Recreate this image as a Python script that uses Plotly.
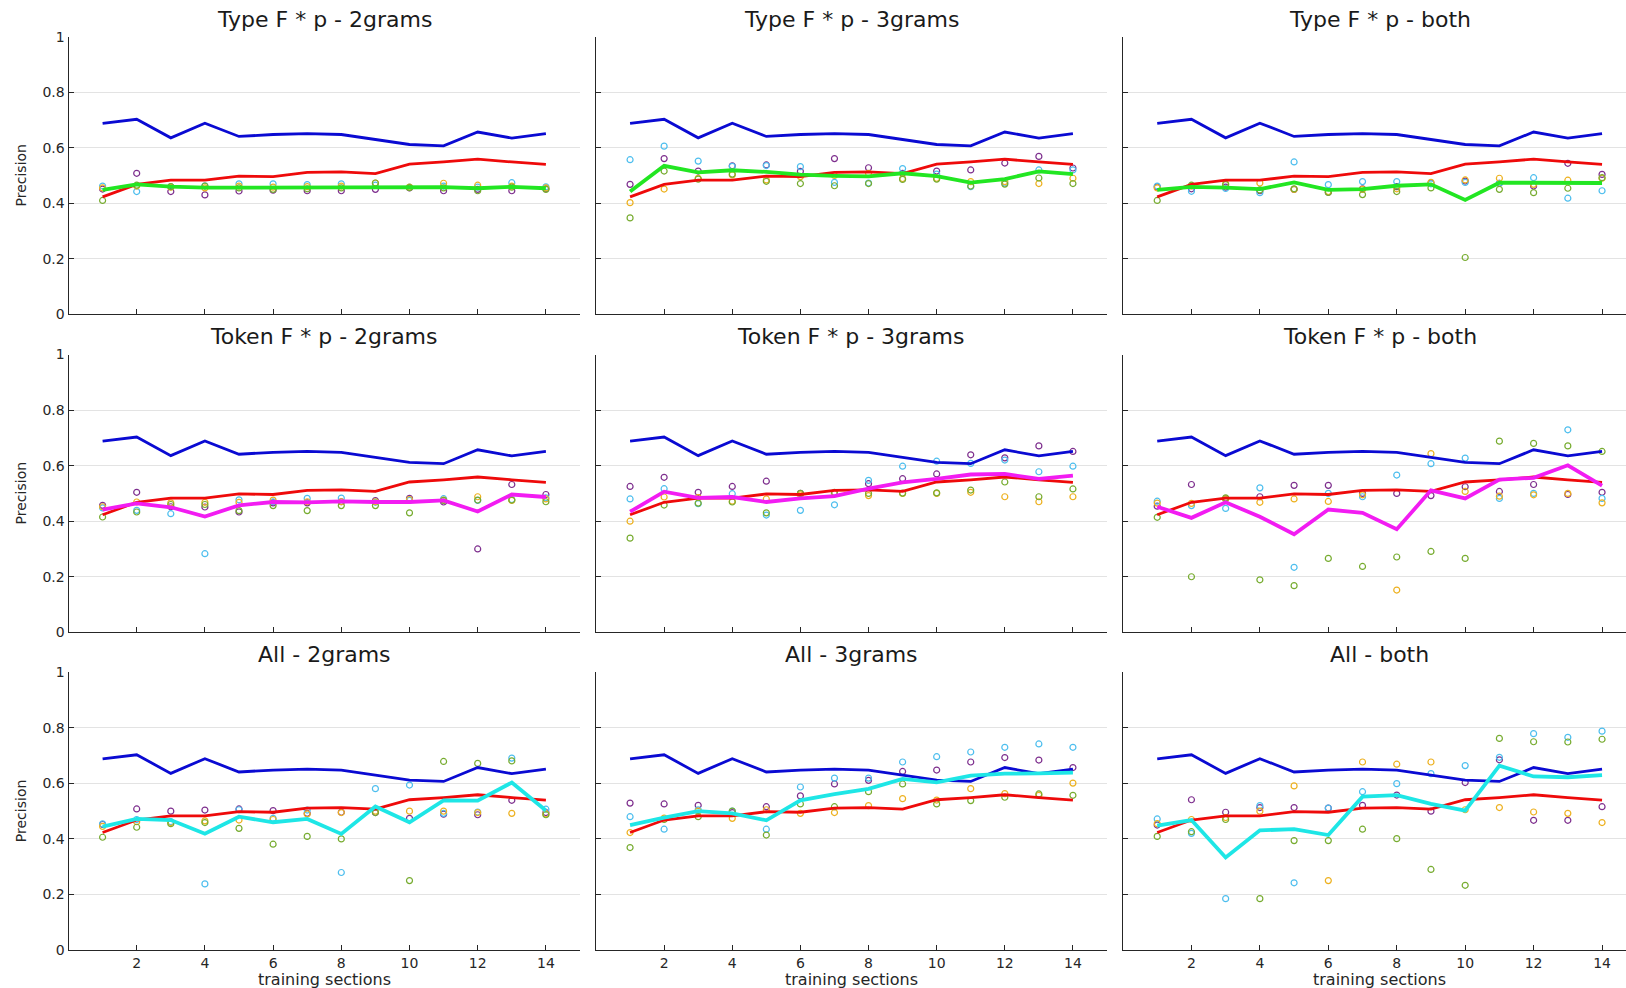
import plotly.graph_objects as go

sections = list(range(1, 15))
x_ticks = [2, 4, 6, 8, 10, 12, 14]
y_ticks = [0, 0.2, 0.4, 0.6, 0.8, 1]
y_tick_labels = ["0", "0.2", "0.4", "0.6", "0.8", "1"]

titles = ["Type F * p - 2grams", "Type F * p - 3grams", "Type F * p - both",
          "Token F * p - 2grams", "Token F * p - 3grams", "Token F * p - both",
          "All - 2grams", "All - 3grams", "All - both"]
x_label = "training sections"
y_label = "Precision"

# shared reference lines (same in every panel)
blue_line = [0.688, 0.703, 0.636, 0.689, 0.641, 0.648, 0.651, 0.648, 0.630, 0.612, 0.607, 0.657, 0.635, 0.651]
red_line = [0.423, 0.468, 0.483, 0.483, 0.498, 0.496, 0.511, 0.513, 0.507, 0.541, 0.549, 0.559, 0.549, 0.540]

# Panel 1: Type 2grams
type2_line = [0.448, 0.468, 0.460, 0.456, 0.456, 0.456, 0.456, 0.459, 0.459, 0.459, 0.458, 0.454, 0.459, 0.454]
type2_purple = [0.451, 0.508, 0.442, 0.430, 0.444, 0.447, 0.445, 0.445, 0.450, 0.455, 0.445, 0.450, 0.445, 0.452]
type2_cyan = [0.462, 0.442, 0.460, 0.463, 0.470, 0.470, 0.467, 0.470, 0.465, 0.458, 0.462, 0.458, 0.474, 0.459]
type2_orange = [0.455, 0.462, 0.458, 0.455, 0.462, 0.458, 0.460, 0.462, 0.473, 0.458, 0.472, 0.465, 0.462, 0.455]
type2_green = [0.410, 0.465, 0.460, 0.462, 0.455, 0.450, 0.452, 0.455, 0.473, 0.456, 0.455, 0.445, 0.458, 0.450]

# Panel 2: Type 3grams
type3_line = [0.442, 0.535, 0.511, 0.519, 0.513, 0.503, 0.499, 0.497, 0.508, 0.498, 0.474, 0.487, 0.515, 0.505]
type3_purple = [0.468, 0.561, 0.516, 0.535, 0.538, 0.515, 0.561, 0.528, 0.508, 0.516, 0.520, 0.545, 0.569, 0.527]
type3_cyan = [0.557, 0.606, 0.552, 0.533, 0.536, 0.532, 0.475, 0.473, 0.525, 0.505, 0.460, 0.473, 0.520, 0.520]
type3_orange = [0.402, 0.451, 0.490, 0.502, 0.484, 0.496, 0.500, 0.508, 0.489, 0.490, 0.478, 0.478, 0.471, 0.490]
type3_green = [0.347, 0.516, 0.487, 0.505, 0.479, 0.471, 0.463, 0.471, 0.486, 0.487, 0.462, 0.469, 0.491, 0.471]

# Panel 3: Type both
typeb_line = [0.448, 0.459, 0.456, 0.451, 0.475, 0.448, 0.451, 0.463, 0.468, 0.412, 0.474, 0.474, 0.475, 0.473]
typeb_purple = [0.459, 0.452, 0.458, 0.445, 0.450, 0.440, 0.452, 0.460, 0.473, 0.480, 0.472, 0.462, 0.544, 0.504]
typeb_cyan = [0.462, 0.443, 0.453, 0.438, 0.549, 0.467, 0.478, 0.478, 0.470, 0.475, 0.472, 0.492, 0.418, 0.445]
typeb_orange = [0.455, 0.462, 0.470, 0.473, 0.450, 0.442, 0.450, 0.452, 0.475, 0.484, 0.490, 0.468, 0.483, 0.490]
typeb_green = [0.410, 0.465, 0.467, 0.448, 0.452, 0.439, 0.431, 0.442, 0.455, 0.204, 0.450, 0.438, 0.454, 0.492]

# Panel 4: Token 2grams
tok2_line = [0.442, 0.464, 0.450, 0.417, 0.457, 0.469, 0.468, 0.471, 0.469, 0.469, 0.475, 0.435, 0.496, 0.487]
tok2_purple = [0.457, 0.504, 0.452, 0.451, 0.433, 0.466, 0.466, 0.470, 0.474, 0.482, 0.469, 0.300, 0.532, 0.496]
tok2_cyan = [0.448, 0.439, 0.427, 0.283, 0.477, 0.470, 0.482, 0.483, 0.468, 0.475, 0.481, 0.475, 0.478, 0.484]
tok2_orange = [0.452, 0.469, 0.466, 0.468, 0.468, 0.476, 0.470, 0.470, 0.470, 0.478, 0.476, 0.488, 0.475, 0.480]
tok2_green = [0.415, 0.433, 0.460, 0.460, 0.438, 0.456, 0.438, 0.456, 0.456, 0.430, 0.475, 0.476, 0.476, 0.470]

# Panel 5: Token 3grams
tok3_line = [0.434, 0.506, 0.484, 0.487, 0.469, 0.482, 0.490, 0.517, 0.540, 0.552, 0.568, 0.570, 0.552, 0.564]
tok3_purple = [0.525, 0.558, 0.504, 0.525, 0.544, 0.500, 0.500, 0.535, 0.553, 0.570, 0.639, 0.628, 0.671, 0.651]
tok3_cyan = [0.480, 0.517, 0.463, 0.499, 0.422, 0.439, 0.459, 0.547, 0.598, 0.616, 0.608, 0.620, 0.578, 0.598]
tok3_orange = [0.400, 0.487, 0.485, 0.472, 0.480, 0.495, 0.500, 0.492, 0.500, 0.500, 0.504, 0.488, 0.470, 0.488]
tok3_green = [0.339, 0.458, 0.465, 0.469, 0.430, 0.500, 0.504, 0.500, 0.501, 0.502, 0.512, 0.541, 0.488, 0.516]

# Panel 6: Token both
tokb_line = [0.452, 0.412, 0.468, 0.416, 0.353, 0.442, 0.430, 0.371, 0.511, 0.482, 0.550, 0.556, 0.601, 0.528]
tokb_purple = [0.454, 0.532, 0.480, 0.488, 0.529, 0.529, 0.500, 0.500, 0.492, 0.524, 0.507, 0.532, 0.496, 0.504]
tokb_cyan = [0.472, 0.456, 0.446, 0.520, 0.234, 0.500, 0.488, 0.566, 0.607, 0.627, 0.482, 0.500, 0.729, 0.482]
tokb_orange = [0.465, 0.464, 0.480, 0.468, 0.480, 0.471, 0.495, 0.152, 0.643, 0.507, 0.490, 0.495, 0.500, 0.466]
tokb_green = [0.414, 0.200, 0.484, 0.189, 0.168, 0.266, 0.237, 0.271, 0.291, 0.266, 0.688, 0.680, 0.671, 0.651]

# Panel 7: All 2grams
all2_line = [0.444, 0.472, 0.468, 0.419, 0.480, 0.460, 0.472, 0.418, 0.517, 0.460, 0.539, 0.538, 0.603, 0.502]
all2_purple = [0.452, 0.508, 0.500, 0.504, 0.508, 0.502, 0.492, 0.496, 0.495, 0.474, 0.489, 0.487, 0.539, 0.495]
all2_cyan = [0.454, 0.470, 0.462, 0.238, 0.505, 0.474, 0.504, 0.279, 0.581, 0.594, 0.492, 0.497, 0.691, 0.507]
all2_orange = [0.445, 0.462, 0.459, 0.465, 0.468, 0.470, 0.490, 0.495, 0.500, 0.500, 0.500, 0.495, 0.492, 0.490]
all2_green = [0.406, 0.442, 0.455, 0.459, 0.438, 0.381, 0.409, 0.400, 0.495, 0.250, 0.679, 0.672, 0.681, 0.487]

# Panel 8: All 3grams
all3_line = [0.450, 0.477, 0.500, 0.492, 0.467, 0.539, 0.561, 0.580, 0.616, 0.604, 0.628, 0.635, 0.636, 0.639]
all3_purple = [0.529, 0.526, 0.521, 0.495, 0.516, 0.555, 0.598, 0.611, 0.643, 0.648, 0.677, 0.693, 0.684, 0.657]
all3_cyan = [0.480, 0.435, 0.505, 0.500, 0.435, 0.587, 0.619, 0.619, 0.677, 0.696, 0.713, 0.730, 0.742, 0.730]
all3_orange = [0.423, 0.475, 0.500, 0.474, 0.505, 0.492, 0.495, 0.520, 0.545, 0.540, 0.581, 0.563, 0.557, 0.601]
all3_green = [0.369, 0.470, 0.480, 0.500, 0.414, 0.526, 0.516, 0.570, 0.598, 0.526, 0.538, 0.550, 0.562, 0.557]

# Panel 9: All both
allb_line = [0.448, 0.468, 0.333, 0.431, 0.435, 0.414, 0.552, 0.558, 0.526, 0.502, 0.664, 0.625, 0.622, 0.630]
allb_purple = [0.450, 0.541, 0.496, 0.513, 0.513, 0.511, 0.521, 0.558, 0.500, 0.603, 0.685, 0.467, 0.467, 0.516]
allb_cyan = [0.472, 0.420, 0.185, 0.520, 0.242, 0.511, 0.570, 0.599, 0.635, 0.664, 0.694, 0.779, 0.766, 0.788]
allb_orange = [0.455, 0.470, 0.477, 0.500, 0.591, 0.250, 0.677, 0.669, 0.677, 0.505, 0.513, 0.497, 0.492, 0.459]
allb_green = [0.409, 0.426, 0.470, 0.185, 0.394, 0.394, 0.435, 0.401, 0.290, 0.233, 0.762, 0.750, 0.749, 0.759]

panels = [
    (type2_line, type2_purple, type2_cyan, type2_orange, type2_green, "#22E622"),
    (type3_line, type3_purple, type3_cyan, type3_orange, type3_green, "#22E622"),
    (typeb_line, typeb_purple, typeb_cyan, typeb_orange, typeb_green, "#22E622"),
    (tok2_line, tok2_purple, tok2_cyan, tok2_orange, tok2_green, "#F21CF2"),
    (tok3_line, tok3_purple, tok3_cyan, tok3_orange, tok3_green, "#F21CF2"),
    (tokb_line, tokb_purple, tokb_cyan, tokb_orange, tokb_green, "#F21CF2"),
    (all2_line, all2_purple, all2_cyan, all2_orange, all2_green, "#1EE6E6"),
    (all3_line, all3_purple, all3_cyan, all3_orange, all3_green, "#1EE6E6"),
    (allb_line, allb_purple, allb_cyan, allb_orange, allb_green, "#1EE6E6"),
]

W, H = 1626, 988
FONT = "DejaVu Sans, Liberation Sans, Arial, sans-serif"
col_px = [(68.5, 580, 15.0), (596, 1107, 15.0), (1123, 1626, 14.7)]
row_px = [(37, 314), (354.5, 632.3), (672.3, 950)]

dot_colors = ["#7E2F8E", "#4DBEEE", "#EDB120", "#77AC30"]
TXT = "#262626"

fig = go.Figure()
layout = dict(width=W, height=H, paper_bgcolor="white", plot_bgcolor="white",
              margin=dict(l=0, r=0, t=0, b=0, pad=0), showlegend=False,
              font=dict(family=FONT, color=TXT))
annotations = []

for i, (line, p, c, o, g, lc) in enumerate(panels):
    r, ci = divmod(i, 3)
    k = i + 1
    xa = "x" if k == 1 else f"x{k}"
    ya = "y" if k == 1 else f"y{k}"
    for vals, col in zip([p, c, o, g], dot_colors):
        fig.add_trace(go.Scatter(x=sections, y=vals, mode="markers", xaxis=xa, yaxis=ya,
                                 marker=dict(symbol="circle-open", size=6, color=col,
                                             line=dict(width=1.2, color=col))))
    fig.add_trace(go.Scatter(x=sections, y=blue_line, mode="lines", xaxis=xa, yaxis=ya,
                             line=dict(color="#0A0AD2", width=2.8)))
    fig.add_trace(go.Scatter(x=sections, y=red_line, mode="lines", xaxis=xa, yaxis=ya,
                             line=dict(color="#EE0A0A", width=2.8)))
    fig.add_trace(go.Scatter(x=sections, y=line, mode="lines", xaxis=xa, yaxis=ya,
                             line=dict(color=lc, width=3.8)))

    x0, x1, xmax = col_px[ci]
    y0, y1 = row_px[r]
    xkey = "xaxis" if k == 1 else f"xaxis{k}"
    ykey = "yaxis" if k == 1 else f"yaxis{k}"
    layout[xkey] = dict(domain=[x0 / W, x1 / W], range=[0, xmax], anchor=ya,
                        automargin=False,
                        tickvals=x_ticks, ticktext=[str(t) for t in x_ticks],
                        showticklabels=(r == 2), ticks="inside", ticklen=5,
                        tickcolor=TXT, showline=True, linecolor=TXT,
                        linewidth=1, showgrid=False, zeroline=False,
                        tickfont=dict(size=14, family=FONT, color=TXT))
    layout[ykey] = dict(domain=[1 - y1 / H, 1 - y0 / H], range=[0, 1], anchor=xa,
                        automargin=False,
                        tickvals=y_ticks, ticktext=y_tick_labels,
                        showticklabels=(ci == 0), ticks="inside", ticklen=5,
                        tickcolor=TXT, showline=True, linecolor=TXT,
                        linewidth=1, showgrid=True, gridcolor="#E3E3E3", gridwidth=1,
                        zeroline=False,
                        tickfont=dict(size=14, family=FONT, color=TXT))
    full_right = x0 + (x1 - x0) * 15.0 / xmax
    xc = (x0 + full_right) / 2 / W
    # panel title centred on the (unclipped) axes
    annotations.append(dict(text=titles[i], x=xc, xref="paper",
                            y=1 - 19 / H - (row_px[r][0] - 37) / H, yref="paper",
                            yanchor="middle", xanchor="center", showarrow=False,
                            font=dict(size=22, family=FONT, color="#1A1A1A")))
    if r == 2:
        annotations.append(dict(text=x_label, x=xc, xref="paper", y=1 - 979 / H,
                                yref="paper", yanchor="middle", xanchor="center",
                                showarrow=False,
                                font=dict(size=16, family=FONT, color=TXT)))
    if ci == 0:
        annotations.append(dict(text=y_label, x=21 / W, xref="paper",
                                y=1 - (y0 + y1) / 2 / H, yref="paper", textangle=-90,
                                yanchor="middle", xanchor="center", showarrow=False,
                                font=dict(size=14, family=FONT, color=TXT)))

layout["annotations"] = annotations
fig.update_layout(**layout)
fig.write_html("out.html", config={"displayModeBar": False},
               post_script="document.body.style.margin='0px';")
